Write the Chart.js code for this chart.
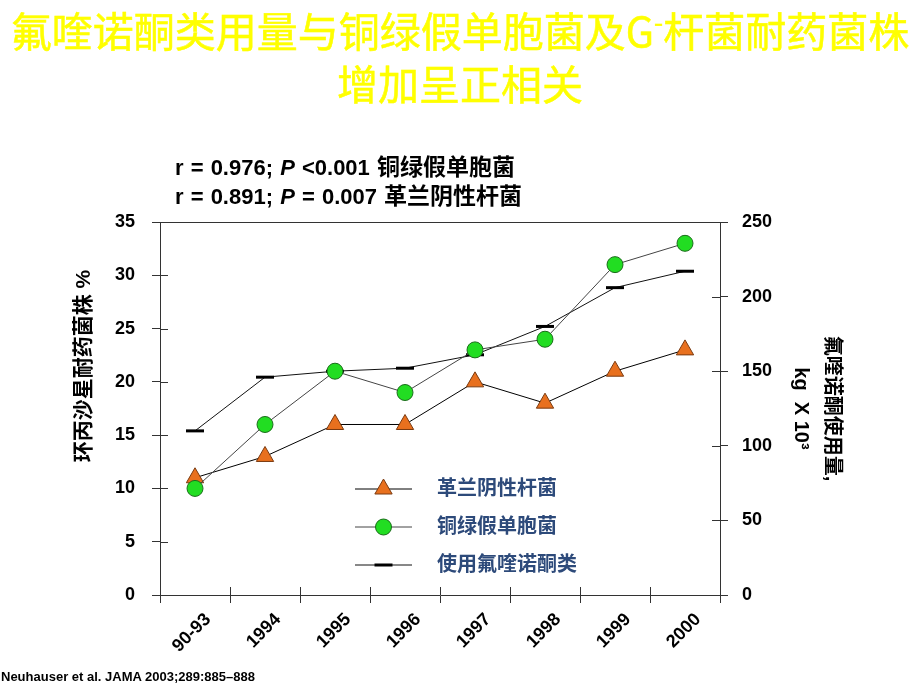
<!DOCTYPE html>
<html lang="zh">
<head>
<meta charset="UTF-8">
<title>氟喹诺酮类用量与耐药菌株</title>
<script src="https://cdn.jsdelivr.net/npm/chart.js@4.4.0/dist/chart.umd.min.js"></script>
<style>
    html, body { margin: 0; padding: 0; background: #fff; }
    #wrap { position: relative; width: 920px; height: 690px; overflow: hidden; }
    #chart { position: absolute; left: 0; top: 0; }
    .title {
        position: absolute; left: 0; top: 6px; width: 920px;
        text-align: center; color: #ffff00;
        font-family: 'Noto Sans CJK SC', sans-serif; font-size: 41px; line-height: 47px;
        font-weight: normal; -webkit-text-stroke: 0.5px #ffff00;
    }
    .title .sup { font-size: 26px; position: relative; top: -15px; }
    .stats {
        position: absolute; left: 175px; top: 153px;
        font-family: 'Liberation Sans', Arial, 'Noto Sans CJK SC', sans-serif;
        font-weight: bold; font-size: 22px; line-height: 29px; color: #000;
        word-spacing: 1px;
    }
    .stats .cn { font-size: 23px; }
    .ytitle {
        position: absolute; left: -67px; top: 354px; width: 300px;
        text-align: center; transform: rotate(-90deg);
        font-family: 'Liberation Sans', Arial, 'Noto Sans CJK SC', sans-serif;
        font-weight: bold; font-size: 21px; line-height: 24px; color: #000;
    }
    .source {
        position: absolute; left: 1px; top: 669px;
        font-family: 'Liberation Sans', Arial, sans-serif;
        font-weight: bold; font-size: 13px; color: #000;
    }
</style>
</head>
<body>
<div id="wrap">
    <canvas id="chart" width="920" height="690"></canvas>
    <div class="title">氟喹诺酮类用量与铜绿假单胞菌及G<span class="sup">-</span>杆菌耐药菌株<br>增加呈正相关</div>
    <div class="stats">
        r = 0.976; <i>P</i> &lt;0.001 <span class="cn">铜绿假单胞菌</span><br>
        r = 0.891; <i>P</i> = 0.007 <span class="cn">革兰阴性杆菌</span>
    </div>
    <div class="ytitle">环丙沙星耐药菌株 %</div>
    <div class="source">Neuhauser et al. JAMA 2003;289:885–888</div>
</div>

<script>
    // 数据
    const categories = ['90-93', '1994', '1995', '1996', '1997', '1998', '1999', '2000'];
    const gramNegative = [11, 13, 16, 16, 20, 18, 21, 23];      // 革兰阴性杆菌 %
    const pseudomonas = [10, 16, 21, 19, 23, 24, 31, 33];       // 铜绿假单胞菌 %
    const fluoroquinoloneUse = [110, 146, 150, 152, 161, 180, 206, 217]; // kg x 10^3
    const seriesNames = ['革兰阴性杆菌', '铜绿假单胞菌', '使用氟喹诺酮类'];
    const rightTitle = ['氟喹诺酮使用量,', 'kg  X 10³'];

    const tickFont = { family: "'Liberation Sans', Arial, sans-serif", size: 18, weight: 'bold' };
    const axisColor = '#333';

    // 坐标轴内侧刻度 + 顶边框
    const innerTicks = {
        id: 'innerTicks',
        afterDraw(chart) {
            const { ctx, chartArea, scales } = chart;
            const len = 8;
            ctx.save();
            ctx.strokeStyle = axisColor;
            ctx.lineWidth = 1;
            ctx.beginPath();
            scales.y.ticks.forEach(t => {
                const y = Math.round(scales.y.getPixelForValue(t.value)) + 0.5;
                ctx.moveTo(chartArea.left, y);
                ctx.lineTo(chartArea.left + len, y);
            });
            scales.y2.ticks.forEach(t => {
                const y = Math.round(scales.y2.getPixelForValue(t.value)) + 0.5;
                ctx.moveTo(chartArea.right, y);
                ctx.lineTo(chartArea.right - len, y);
            });
            for (let i = 0; i <= categories.length; i++) {
                const x = Math.round(scales.x.getPixelForValue(i - 0.5)) + 0.5;
                ctx.moveTo(x, chartArea.bottom);
                ctx.lineTo(x, chartArea.bottom - len);
            }
            const top = Math.round(chartArea.top) + 0.5;
            ctx.moveTo(chartArea.left, top);
            ctx.lineTo(chartArea.right, top);
            ctx.stroke();
            ctx.restore();
        }
    };

    // 图例画在绘图区内
    const innerLegend = {
        id: 'innerLegend',
        afterDraw(chart) {
            const { ctx, chartArea } = chart;
            const x0 = chartArea.left + 195;
            const x1 = x0 + 57;
            const cx = (x0 + x1) / 2;
            ctx.save();
            chart.data.datasets.forEach((ds, i) => {
                const y = 489 + i * 38;
                ctx.strokeStyle = ds.borderColor;
                ctx.lineWidth = 1;
                ctx.beginPath();
                ctx.moveTo(x0, y);
                ctx.lineTo(x1, y);
                ctx.stroke();

                ctx.fillStyle = ds.pointBackgroundColor;
                ctx.strokeStyle = ds.pointBorderColor;
                ctx.lineWidth = ds.pointBorderWidth;
                ctx.beginPath();
                if (ds.pointStyle === 'circle') {
                    ctx.arc(cx, y, ds.pointRadius, 0, Math.PI * 2);
                    ctx.fill(); ctx.stroke();
                } else if (ds.pointStyle === 'triangle') {
                    const r = ds.pointRadius;
                    for (let k = 0; k < 3; k++) {
                        const a = k * 2 * Math.PI / 3;
                        const px = cx + Math.sin(a) * r, py = y - Math.cos(a) * r;
                        k ? ctx.lineTo(px, py) : ctx.moveTo(px, py);
                    }
                    ctx.closePath();
                    ctx.fill(); ctx.stroke();
                } else {
                    ctx.moveTo(cx - ds.pointRadius, y);
                    ctx.lineTo(cx + ds.pointRadius, y);
                    ctx.stroke();
                }
                ctx.fillStyle = '#2d4a7a';
                ctx.font = "bold 20px 'Liberation Sans', Arial, 'Noto Sans CJK SC', sans-serif";
                ctx.textBaseline = 'middle';
                ctx.fillText(seriesNames[i], chartArea.left + 277, y);
            });
            ctx.restore();
        }
    };

    new Chart(document.getElementById('chart'), {
        type: 'line',
        data: {
            labels: categories,
            datasets: [
                {
                    label: seriesNames[0],
                    data: gramNegative,
                    yAxisID: 'y',
                    borderColor: '#000',
                    borderWidth: 1,
                    pointStyle: 'triangle',
                    pointRadius: 10,
                    pointBackgroundColor: '#e8701e',
                    pointBorderColor: '#7a3a10',
                    pointBorderWidth: 1,
                    order: 1
                },
                {
                    label: seriesNames[1],
                    data: pseudomonas,
                    yAxisID: 'y',
                    borderColor: '#444',
                    borderWidth: 1,
                    pointStyle: 'circle',
                    pointRadius: 8,
                    pointBackgroundColor: '#22dd22',
                    pointBorderColor: '#1a6b1a',
                    pointBorderWidth: 1,
                    order: 0
                },
                {
                    label: seriesNames[2],
                    data: fluoroquinoloneUse,
                    yAxisID: 'y2',
                    borderColor: '#111',
                    borderWidth: 1,
                    pointStyle: 'line',
                    pointRadius: 9,
                    pointBackgroundColor: '#000',
                    pointBorderColor: '#000',
                    pointBorderWidth: 3,
                    order: 2
                }
            ]
        },
        options: {
            responsive: false,
            animation: false,
            devicePixelRatio: 1,
            layout: { padding: { top: 222, left: 0, right: 0, bottom: 0 } },
            plugins: {
                legend: { display: false },
                tooltip: { enabled: false }
            },
            scales: {
                x: {
                    offset: true,
                    afterFit: s => { s.height = 95; },
                    grid: { offset: true, drawOnChartArea: false, tickLength: 8, color: axisColor },
                    border: { color: axisColor },
                    ticks: {
                        font: tickFont, color: '#000',
                        minRotation: 45, maxRotation: 45, autoSkip: false,
                        padding: 6, labelOffset: 13
                    }
                },
                y: {
                    position: 'left',
                    min: 0, max: 35,
                    afterFit: s => { s.width = 160; },
                    grid: { drawOnChartArea: false, tickLength: 8, color: axisColor },
                    border: { color: axisColor },
                    ticks: { stepSize: 5, font: tickFont, color: '#000', padding: 17 }
                },
                y2: {
                    position: 'right',
                    min: 0, max: 250,
                    afterFit: s => { s.width = 200; },
                    grid: { drawOnChartArea: false, tickLength: 8, color: axisColor },
                    border: { color: axisColor },
                    ticks: { stepSize: 50, font: tickFont, color: '#000', padding: 14 },
                    title: {
                        display: true,
                        text: rightTitle,
                        color: '#000',
                        font: { family: "'Liberation Sans', Arial, 'Noto Sans CJK SC', sans-serif", size: 20, weight: 'bold', lineHeight: '31px' },
                        padding: { top: 73, bottom: 0 }
                    }
                }
            }
        },
        plugins: [innerTicks, innerLegend]
    });
</script>
</body>
</html>
